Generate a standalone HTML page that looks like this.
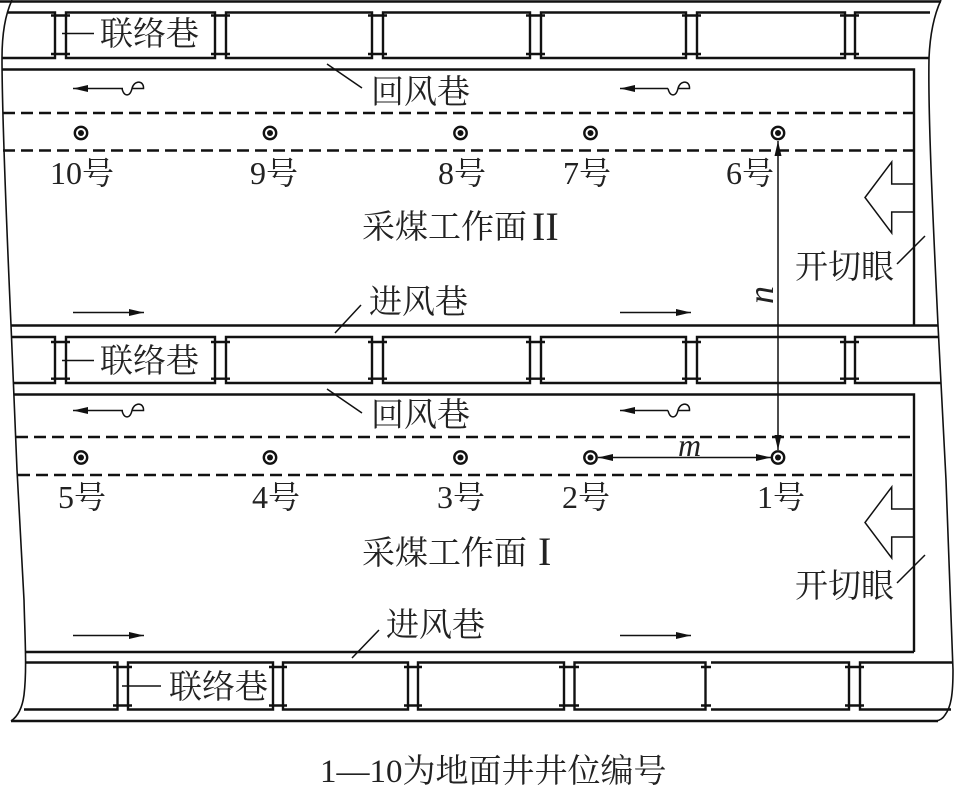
<!DOCTYPE html>
<html><head><meta charset="utf-8">
<style>
html,body{margin:0;padding:0;background:#fff;width:955px;height:789px;overflow:hidden}
svg{display:block}
text{font-family:"Liberation Serif","Noto Serif CJK SC",serif;font-size:32px;fill:#222}
.h{font-size:33px}
.i{font-style:italic}
</style></head><body>
<svg width="955" height="789" viewBox="0 0 955 789" xmlns="http://www.w3.org/2000/svg">
<defs>
<marker id="a" markerWidth="16" markerHeight="8" refX="15" refY="3.500" orient="auto-start-reverse" markerUnits="userSpaceOnUse"><path d="M0 0L15 3.500L0 7Z" fill="#111"/></marker>
</defs>
<g fill="none" stroke="#111" stroke-width="1.600">
<path d="M12 0C5 15 2 35 2 58C2 110 5 190 11 325L17 470L24 600C25 640 27 670 24 695C22 710 17 717 11 721"/>
<path d="M941 0C934 15 930 35 929 58C928 110 932 200 938 325L946 480L953 670C953 695 951 707 945 715Q942 720 936 721"/>
</g>
<g fill="none" stroke="#111" stroke-width="2.400">
<path d="M0 1.500H941"/>
<path d="M2 69.500H914V325"/>
<path d="M11 325.500H938"/>
<path d="M14 394.500H914V652"/>
<path d="M25 652H914"/>
<path d="M11 721H938"/>
<path d="M8 12.500H55V58H2"/>
<path d="M66 12.500H215V58H66Z"/><path d="M226 12.500H372V58H226Z"/><path d="M383 12.500H530V58H383Z"/><path d="M541 12.500H686V58H541Z"/><path d="M697 12.500H845V58H697Z"/><path d="M930 12.500H855V58H929"/>
<path d="M51 15.500H70M51 54H70M211 15.500H230M211 54H230M368 15.500H387M368 54H387M526 15.500H545M526 54H545M682 15.500H701M682 54H701M840 15.500H859M840 54H859"/>
<path d="M11 337H55V383H13"/>
<path d="M66 337H215V383H66Z"/><path d="M226 337H372V383H226Z"/><path d="M383 337H530V383H383Z"/><path d="M541 337H686V383H541Z"/><path d="M697 337H845V383H697Z"/><path d="M939 337H855V383H941"/>
<path d="M51 342H70M51 378.700H70M211 342H230M211 378.700H230M368 342H387M368 378.700H387M526 342H545M526 378.700H545M682 342H701M682 378.700H701M840 342H859M840 378.700H859"/>
<path d="M25 662.500H117.500V709.500H24"/>
<path d="M128 662.500H273V709.500H128Z"/><path d="M283 662.500H408V709.500H283Z"/><path d="M418 662.500H564V709.500H418Z"/><path d="M574.500 662.500H705.500V709.500H574.500Z"/>
<path d="M711 662.500H849V709.500H711"/><path d="M953 662.500H860V709.500H951"/>
<path d="M113 667H132M113 705.500H132M269 667H287M269 705.500H287M404 667H422M404 705.500H422M559 667H579M559 705.500H579M701 667H711M701 705.500H711M845 667H864M845 705.500H864"/>
<path stroke-dasharray="12 6" d="M3 113H914M3 150.500H914M16 437H914M18 475H914"/>
</g>
<g fill="#fff" stroke="#111" stroke-width="2.400">
<circle cx="81" cy="133" r="6.200"/><circle cx="270" cy="133" r="6.200"/><circle cx="460.500" cy="133" r="6.200"/><circle cx="590.500" cy="133" r="6.200"/><circle cx="778" cy="133" r="6.200"/>
<circle cx="81" cy="457.500" r="6.200"/><circle cx="270" cy="457.500" r="6.200"/><circle cx="460.500" cy="457.500" r="6.200"/><circle cx="590.500" cy="457.500" r="6.200"/><circle cx="778" cy="457.500" r="6.200"/>
</g>
<g fill="#111">
<circle cx="81" cy="133" r="3"/><circle cx="270" cy="133" r="3"/><circle cx="460.500" cy="133" r="3"/><circle cx="590.500" cy="133" r="3"/><circle cx="778" cy="133" r="3"/>
<circle cx="81" cy="457.500" r="3"/><circle cx="270" cy="457.500" r="3"/><circle cx="460.500" cy="457.500" r="3"/><circle cx="590.500" cy="457.500" r="3"/><circle cx="778" cy="457.500" r="3"/>
</g>
<g fill="none" stroke="#111" stroke-width="1.500">
<path marker-end="url(#a)" d="M123 88.500H73"/><path d="M122 88.500C124 97 130 97 132 88.500C134 80 144 80 143.500 88.500H132"/>
<path marker-end="url(#a)" d="M668 88.500H620"/><path d="M668 88.500C670 97 676 97 678 88.500C680 80 690 80 689.500 88.500H678"/>
<path marker-end="url(#a)" d="M123 410.500H73"/><path d="M122 410.500C124 419 130 419 132 410.500C134 402 144 402 143.500 410.500H132"/>
<path marker-end="url(#a)" d="M668 410.500H620"/><path d="M668 410.500C670 419 676 419 678 410.500C680 402 690 402 689.500 410.500H678"/>
<path marker-end="url(#a)" d="M73 312.500H144"/><path marker-end="url(#a)" d="M620 312.500H691"/>
<path marker-end="url(#a)" d="M73 635.500H144"/><path marker-end="url(#a)" d="M620 635.500H691"/>
<path marker-start="url(#a)" marker-end="url(#a)" d="M778 141V450"/>
<path marker-start="url(#a)" marker-end="url(#a)" d="M598 457.500H771"/>
<path d="M914 184H891.700V162L865 197.500L891.700 233V212H914"/>
<path d="M914 509H891.700V487L865 522.500L891.700 558V537H914"/>
<path d="M327 64L362 88M327 389L362 413M335 333L361 305M352 658L379 630M925 236L897 264M925 555L897 583"/>
<path d="M62 33.500H94M62 360.500H94M122 686H161"/>
</g>
<text class="h" x="100" y="45">联络巷</text>
<text class="h" x="100" y="372">联络巷</text>
<text class="h" x="169" y="698">联络巷</text>
<text class="h" x="371" y="103">回风巷</text>
<text class="h" x="371" y="426">回风巷</text>
<text class="h" x="369" y="313">进风巷</text>
<text class="h" x="386" y="636">进风巷</text>
<text class="h" x="795" y="278">开切眼</text>
<text class="h" x="795" y="597">开切眼</text>
<text class="h" x="362" y="238">采煤工作面</text>
<text x="532" y="240" style="font-size:40px">II</text>
<text class="h" x="362" y="564">采煤工作面</text>
<text x="538" y="565" style="font-size:40px">I</text>
<text x="50" y="184">10号</text>
<text x="250" y="184">9号</text>
<text x="438" y="184">8号</text>
<text x="563" y="184">7号</text>
<text x="726" y="184">6号</text>
<text x="58" y="508">5号</text>
<text x="252" y="508">4号</text>
<text x="437" y="508">3号</text>
<text x="562" y="508">2号</text>
<text x="757" y="508">1号</text>
<text class="i" x="678" y="456">m</text>
<text class="i" transform="translate(773,304) rotate(-90)" style="font-size:36px">n</text>
<text x="320" y="782" style="font-size:33px">1—10为地面井井位编号</text>
</svg>
</body></html>
